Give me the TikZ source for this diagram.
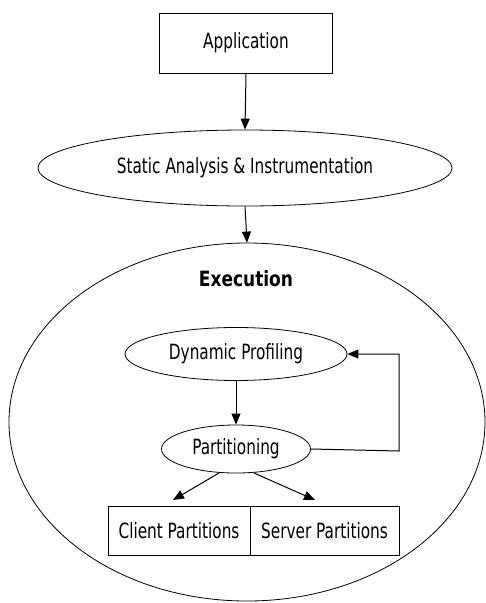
\documentclass[tikz,border=0pt]{standalone}
\usepackage{fontspec}
\setmainfont[FakeStretch=0.81]{DejaVu Sans Condensed}
\usetikzlibrary{shapes.geometric,arrows.meta}
\begin{document}
\begin{tikzpicture}[x=1pt,y=-1pt,
  every node/.style={font=\fontsize{21}{24}\selectfont},
  ell/.style={draw,ellipse,inner sep=0pt},
  box/.style={draw,rectangle,inner sep=0pt},
  conn/.style={-{Triangle[length=11pt,width=9pt]},line width=1pt},
  line width=0.8pt]
\useasboundingbox (0,0) rectangle (486,603);
\node[box,minimum width=173pt,minimum height=60pt] (app) at (246,43) {Application};
\node[ell,minimum width=414pt,minimum height=76pt] (sa) at (245,168) {Static Analysis \& Instrumentation};
\node[ell,minimum width=476pt,minimum height=358pt] (exec) at (247,422) {};
\node[font=\fontsize{21}{24}\selectfont\bfseries\addfontfeature{FakeStretch=0.9}] (extitle) at (246,279) {Execution};
\node[ell,minimum width=222pt,minimum height=53pt] (dp) at (236,354) {Dynamic Profiling};
\node[ell,minimum width=149pt,minimum height=48pt] (part) at (236,449) {Partitioning};
\node[box,minimum width=142pt,minimum height=49pt] (client) at (179,530.5) {Client Partitions};
\node[box,minimum width=149pt,minimum height=49pt] (server) at (324.5,530.5) {Server Partitions};
\coordinate (c1) at (399,451);
\coordinate (c2) at (399,354);
\draw[conn] (app.south) -- (sa.north);
\draw[conn] (sa.south) -- (exec.north);
\draw[conn] (dp.south) -- (part.north);
\draw[conn] (part.east) -- (c1) -- (c2) -- (dp.east);
\draw[conn] (219,473) -- (173,500);
\draw[conn] (254,473) -- (315,500);
\end{tikzpicture}
\end{document}
